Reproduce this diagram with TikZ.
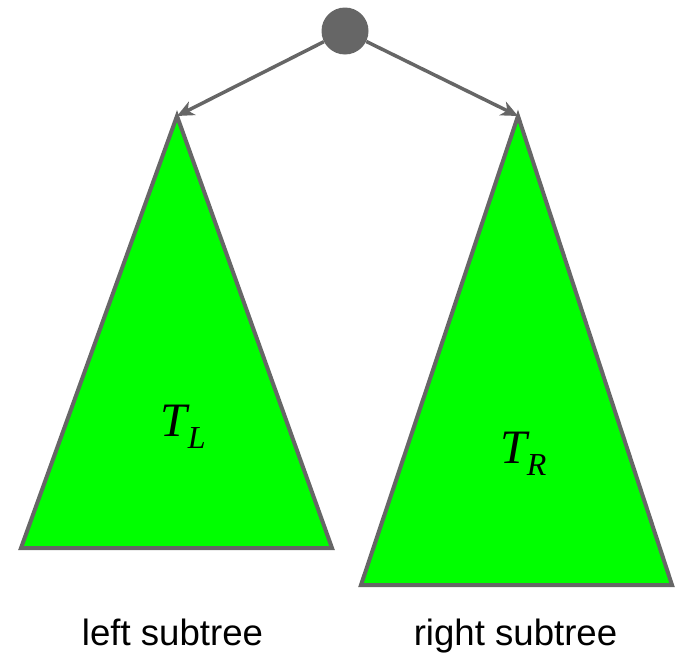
\documentclass[tikz,border=0pt]{standalone}
\usepackage{fontspec}
\setsansfont{Liberation Sans}
\newfontfamily\labelserif{Liberation Serif}
\usetikzlibrary{arrows.meta}
\definecolor{edgegray}{RGB}{102,102,102}
\definecolor{treegreen}{RGB}{0,255,0}
\tikzset{
  subtree/.style={draw=edgegray, fill=treegreen, line width=4pt, line join=miter},
  rootnode/.style={circle, fill=edgegray, draw=none, minimum size=47pt, inner sep=0pt},
  childedge/.style={draw=edgegray, line width=3.5pt, -{Stealth[length=17pt,width=15pt,inset=5pt]}},
  caption/.style={font=\sffamily\fontsize{36.6}{40}\selectfont, anchor=base, inner sep=0pt},
  treelabel/.style={font=\labelserif\fontsize{48}{52}\selectfont\itshape, anchor=base west, inner sep=0pt}
}
\newcommand{\treesub}[1]{\raisebox{-12pt}{\fontsize{32}{34}\selectfont #1}}
\begin{document}
\begin{tikzpicture}[x=1pt, y=-1pt]
\useasboundingbox (0,0) rectangle (679,653);
\coordinate (LA) at (177,116);
\coordinate (LB1) at (21,548);
\coordinate (LB2) at (332,548);
\coordinate (RA) at (518,116);
\coordinate (RB1) at (361,585);
\coordinate (RB2) at (672,585);
\draw[subtree] (LA) -- (LB2) -- (LB1) -- cycle;
\draw[subtree] (RA) -- (RB2) -- (RB1) -- cycle;
\node[rootnode] (root) at (345,31) {};
\draw[childedge] (root) -- (LA);
\draw[childedge] (root) -- (RA);
\node[treelabel] (tl) at (160,436) {T\kern1pt\treesub{L}};
\node[treelabel] (tr) at (500,463) {T\kern0pt\treesub{R}};
\node[caption] (lcap) at (172.5,645) {left subtree};
\node[caption] (rcap) at (515.5,645) {right subtree};
\end{tikzpicture}
\end{document}
